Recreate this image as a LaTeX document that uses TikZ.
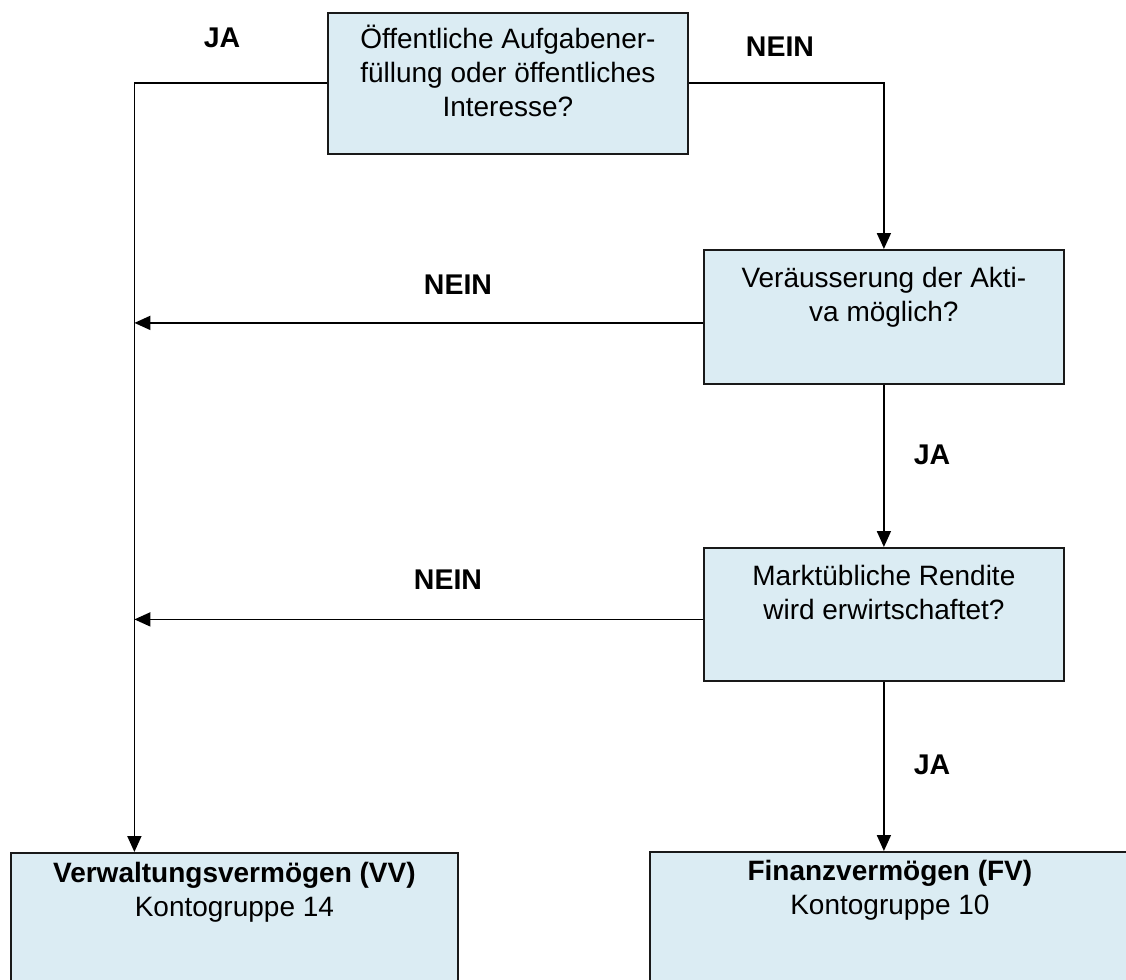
\documentclass[tikz,border=0pt]{standalone}
\usepackage{fontspec}
\setmainfont{Liberation Sans}
\usepackage{xcolor}
\usetikzlibrary{arrows.meta}

\definecolor{boxblue}{RGB}{219,236,243}
\newcommand{\boxtext}[4]{\begin{minipage}[t][#2][t]{#1}\centering\rule{0pt}{#3}#4\end{minipage}}

\begin{document}
\begin{tikzpicture}[x=1pt, y=-1pt, >={Triangle[length=16pt, width=14pt]}, line width=1.8pt]
    \tikzstyle{box}=[draw=black!90, fill=boxblue, inner sep=0pt, anchor=north west,
        font=\fontsize{28pt}{34pt}\selectfont]
    \tikzstyle{lbl}=[font=\fontsize{28.5pt}{34pt}\selectfont\bfseries, inner sep=0pt]

    \useasboundingbox (0,0) rectangle (1126,979);
    \clip (0,0) rectangle (1126,979);

    \node[box] (b1) at (327,12) {\boxtext{360pt}{141pt}{36pt}{Öffentliche Aufgabener-\\füllung oder öffentliches\\Interesse?}};
    \node[box] (b2) at (703,249) {\boxtext{360pt}{134pt}{38pt}{Veräusserung der Akti-\\va möglich?}};
    \node[box] (b3) at (703,547) {\boxtext{360pt}{133pt}{38pt}{Marktübliche Rendite\\wird erwirtschaftet?}};
    \node[box] (vv) at (10,852) {\boxtext{447pt}{170pt}{30pt}{\textbf{Verwaltungsvermögen (VV)}\\Kontogruppe 14}};
    \node[box] (fv) at (649,851) {\boxtext{480pt}{170pt}{29pt}{\textbf{Finanzvermögen (FV)}\\Kontogruppe 10}};

    \coordinate (vvin) at ([xshift=-100pt]vv.north);
    \coordinate (n2) at ([yshift=-6pt]b2.west);
    \coordinate (n3) at ([yshift=-5pt]b3.west);

    \draw[->] (b1.west) -| (vvin);
    \draw[->] (b1.east) -| (b2.north);
    \draw[->] (n2) -- (n2 -| vvin);
    \draw[->] (b2.south) -- (b3.north);
    \draw[->] (n3) -- (n3 -| vvin);
    \draw[->] (b3.south) -- (b3.south |- fv.north);

    \node[lbl] (ja1) at (222,38) {JA};
    \node[lbl] (nein1) at (780,47) {NEIN};
    \node[lbl] (nein2) at (458,285) {NEIN};
    \node[lbl] (ja2) at (932,455) {JA};
    \node[lbl] (nein3) at (448,580) {NEIN};
    \node[lbl] (ja3) at (932,765) {JA};
\end{tikzpicture}
\end{document}
